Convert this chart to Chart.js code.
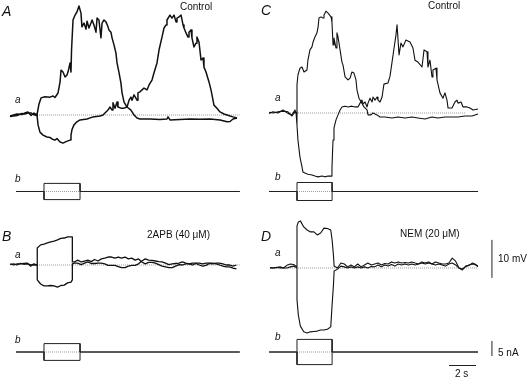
<!DOCTYPE html>
<html>
<head>
<meta charset="utf-8">
<script src="https://cdn.jsdelivr.net/npm/chart.js@4.4.1/dist/chart.umd.min.js"></script>
<style>
  body { margin: 0; background: #fff; }
  #wrap { position: relative; width: 530px; height: 383px; overflow: hidden; background: #fff; }
  #wrap canvas { position: absolute; }
  .lbl { position: absolute; font-family: "Liberation Sans", Arial, sans-serif; color: #111; white-space: nowrap; font-size: 10px; line-height: 10px; }
  .it { font-style: italic; }
  .big { font-size: 14px; line-height: 14px; }
</style>
</head>
<body>
<div id="wrap">
  <canvas id="panelA" width="265" height="210" style="left:0;top:0"></canvas>
  <canvas id="panelC" width="265" height="210" style="left:265px;top:0"></canvas>
  <canvas id="panelB" width="265" height="173" style="left:0;top:210px"></canvas>
  <canvas id="panelD" width="265" height="173" style="left:265px;top:210px"></canvas>

  <div class="lbl it big" style="left:2px;top:4px">A</div>
  <div class="lbl" style="left:180px;top:2px">Control</div>
  <div class="lbl it" style="left:15px;top:95px">a</div>
  <div class="lbl it" style="left:15px;top:174px">b</div>

  <div class="lbl it big" style="left:261px;top:3px">C</div>
  <div class="lbl" style="left:428px;top:1px">Control</div>
  <div class="lbl it" style="left:275px;top:93px">a</div>
  <div class="lbl it" style="left:275px;top:172px">b</div>

  <div class="lbl it big" style="left:2px;top:229px">B</div>
  <div class="lbl" style="left:147px;top:230px">2APB (40 μM)</div>
  <div class="lbl it" style="left:15px;top:250px">a</div>
  <div class="lbl it" style="left:15px;top:335px">b</div>

  <div class="lbl it big" style="left:261px;top:229px">D</div>
  <div class="lbl" style="left:400px;top:229px">NEM (20 μM)</div>
  <div class="lbl it" style="left:275px;top:248px">a</div>
  <div class="lbl it" style="left:275px;top:332px">b</div>

  <div class="lbl" style="left:498px;top:254px">10 mV</div>
  <div class="lbl" style="left:498px;top:348px">5 nA</div>
  <div class="lbl" style="left:455px;top:369px">2 s</div>
</div>

<script>
// time in s from current step onset, membrane potential in mV, current in nA

// A - control, first cell
var timeUpA = [-2.52,-2.0,-1.63,-1.41,-1.19,-0.96,-0.74,-0.59,-0.52,-0.37,-0.22,0.07,0.44,0.67,0.81,1.04,1.19,1.26,1.41,
  1.56,1.70,1.78,1.93,2.0,2.04,2.15,2.30,2.44,2.59,2.74,2.81,2.96,3.11,3.19,3.33,3.48,3.56,3.70,3.85,
  3.93,4.07,4.22,4.30,4.44,4.59,4.74,4.81,4.96,5.04,5.19,5.33,5.41,5.56,5.70,5.78,5.93,6.15,6.44,6.67,
  6.89,7.11,7.85,8.59,9.11,9.19,9.33,10.07,10.81,11.56,12.3,13.04,13.56,13.78,14.0,14.3];
var voltUpA = [-0.26,0.26,0.13,0.53,0.79,-0.13,0.53,-0.13,0,2.9,4.5,4.8,4.7,5.0,4.6,5.8,8.7,11.8,11.3,
  10.0,10.5,11.3,13.7,11.3,17.1,25.0,26.3,27.1,28.7,26.8,23.2,24.2,22.6,24.7,22.9,24.2,25.0,23.7,21.8,
  25.5,25.0,20.3,24.2,25.0,24.5,23.2,22.4,21.8,20.3,18.4,16.3,13.7,11.1,8.4,5.8,3.4,2.1,1.3,0,
  -0.8,-1.05,-1.05,-1.2,-1.05,-0.5,-1.3,-1.2,-1.05,-1.1,-1.05,-1.3,-1.8,-1.7,-1.05,-0.8];
var timeDownA = [-2.52,-2.0,-1.63,-1.41,-1.19,-0.96,-0.74,-0.59,-0.52,
  -0.44,-0.30,-0.07,0.22,0.44,0.59,0.81,0.96,1.19,1.41,1.63,1.93,2.0,2.07,2.22,2.44,2.67,3.19,3.63,4.15,
  4.37,4.59,4.74,4.89,5.04,5.11,5.26,5.41,5.48,5.70,5.93,6.15,6.30,6.44,6.52,6.67,6.89,6.96,7.11,7.26,
  7.41,7.63,7.78,8.0,8.15,8.37,8.52,8.74,8.89,9.04,9.11,9.33,9.48,9.63,9.78,9.85,10.0,10.15,10.30,10.37,
  10.52,10.67,10.74,10.89,10.96,11.11,11.26,11.33,11.48,11.63,11.78,11.85,12.0,12.22,12.37,12.59,12.81,
  13.04,13.33,13.56,13.78,14.0,14.3];
var voltDownA = [-0.4,-0.13,0.4,0.26,0.53,0.53,0,0.26,0,
  -2.6,-4.5,-5.3,-5.8,-5.9,-6.3,-6.6,-6.2,-7.1,-7.4,-7.0,-6.6,-5.3,-3.9,-2.6,-1.8,-1.3,-1.05,-0.5,-0.26,
  0,0.8,1.3,2.1,1.3,3.2,1.8,3.4,2.1,1.8,1.8,2.1,3.9,4.7,3.9,5.3,3.9,5.8,6.1,6.6,
  7.1,6.6,7.9,9.2,11.1,13.7,17.1,20.5,22.9,23.7,25.0,26.3,25.5,26.3,24.5,25.5,25.8,26.3,23.7,22.9,
  21.6,20.5,21.8,22.4,20.3,17.9,18.9,20.5,19.2,14.5,15.0,12.6,11.3,8.7,6.6,2.6,1.8,
  0.8,0.26,0,-0.26,-0.5,-0.8];

// C - control, second cell
var timeUpC = [-2.07,-1.78,-1.41,-1.04,-0.67,-0.37,-0.15,-0.07,
  0,0.07,0.22,0.37,0.52,0.74,0.81,0.96,1.11,1.19,1.33,1.48,1.56,1.63,1.78,1.93,2.0,2.15,2.30,2.37,
  2.52,2.59,2.67,2.74,2.89,2.96,3.04,3.19,3.33,3.41,3.56,3.78,3.93,4.07,4.22,4.37,4.44,4.59,4.81,4.96,
  5.19,5.26,5.48,5.63,5.93,6.15,6.52,7.04,7.48,8.0,8.52,8.96,9.48,10.0,10.44,10.96,11.48,11.93,12.44,12.96,13.41];
var voltUpC = [-0.1,0.3,0,0.8,-0.1,-0.5,0.8,0,
  7.4,10.0,11.8,12.1,10.8,11.3,13.9,16.6,17.4,18.7,20.0,21.1,22.6,25.0,25.3,25.0,25.8,26.8,26.3,26.3,
  25.3,23.9,17.9,19.7,17.1,21.1,20.0,16.6,13.4,12.6,9.5,8.7,9.2,10.8,10.5,8.7,6.1,3.9,2.6,1.6,
  0.8,-0.5,-0.5,0,-0.5,-1.05,-1.05,-1.3,-1.05,-1.3,-1.05,-1.3,-1.6,-1.05,-1.3,-1.05,-1.05,-1.05,-0.8,-0.8,-0.26];
var timeDownC = [-2.07,-1.78,-1.41,-1.04,-0.67,-0.37,-0.15,-0.07,
  0,0.07,0.22,0.37,0.44,0.59,0.81,1.11,1.33,1.56,1.85,2.07,2.30,2.52,2.59,2.63,2.67,2.74,2.89,3.04,
  3.19,3.33,3.56,3.78,4.07,4.30,4.52,4.67,4.81,4.89,5.04,5.19,5.26,5.41,5.56,5.63,5.78,5.93,6.0,6.15,
  6.30,6.44,6.74,6.89,7.04,7.19,7.33,7.41,7.56,7.70,7.85,8.07,8.37,8.59,8.74,8.96,9.26,9.41,9.63,9.70,
  9.85,10.0,10.07,10.30,10.37,10.59,10.81,10.96,11.11,11.19,11.48,11.70,11.85,11.93,12.15,12.30,12.59,12.81,13.04,13.41];
var voltDownC = [0.2,0,0.3,0.5,0.3,-0.8,0.3,0,
  -3.2,-7.1,-11.6,-14.2,-15.5,-15.8,-16.1,-16.3,-16.6,-16.8,-16.6,-16.8,-16.6,-16.6,-14.5,-10.5,-7.1,-3.9,-1.8,-0.5,
  0.8,1.6,1.8,1.6,1.8,1.6,1.6,2.6,3.4,2.4,2.9,1.6,2.6,3.9,2.9,4.2,3.4,4.2,3.4,2.9,
  4.2,7.6,7.9,9.7,13.4,17.1,20.5,23.2,15.3,18.4,17.4,19.2,18.7,17.1,13.9,13.4,12.1,16.6,16.1,12.1,
  13.9,9.5,11.3,11.8,8.7,5.3,3.9,5.3,3.4,1.3,1.3,2.9,3.4,2.6,2.9,1.6,1.6,1.3,0.8,1.05];

// B - 2APB
var timeB = [-2.5,-2.25,-2.0,-1.75,-1.5,-1.25,-1.0,-0.75,-0.5,-0.5,-0.25,0,0.25,0.5,0.75,1.0,1.25,1.5,1.75,2.0,
  2.1,2.1,2.25,2.5,2.75,3.0,3.25,3.5,3.75,4.0,4.25,4.5,4.75,5.0,5.25,5.5,5.75,6.0,6.25,6.5,6.75,7.0,
  7.25,7.5,7.75,8.0,8.25,8.5,8.75,9.0,9.25,9.5,9.75,10.0,10.25,10.5,10.75,11.0,11.25,11.5,11.75,12.0,
  12.25,12.5,12.75,13.0,13.25,13.5,13.75,14.0,14.25];
var voltUpB = [0.3,0,0.3,0.3,0.4,0.5,-0.3,0.3,0,4.5,5.3,5.5,5.8,6.1,6.3,6.6,7.0,7.1,7.4,7.4,
  7.4,0.8,0.8,1.3,0.8,1.05,1.3,0.9,1.45,1.05,1.6,1.8,2.1,2.1,1.8,2.1,1.8,2.1,1.6,1.8,1.3,1.6,
  0.8,0.3,0.7,0.7,0.5,0.1,-0.3,-0.5,-0.7,-0.7,-0.3,0.1,0,0.3,0.3,0.5,0.5,0.5,0.3,0.5,
  0.5,0.5,0.3,0,-0.3,-0.5,-0.5,-0.8,-1.05];
var voltDownB = [0.1,0.3,0,0.4,0.2,0.3,0.1,0,0,-3.9,-5.0,-5.5,-5.5,-5.4,-5.5,-5.8,-5.4,-5.3,-4.7,-4.5,
  -3.9,0.3,0.5,0.5,0.1,0.5,0.8,0.4,0.4,0.5,0.5,0.3,-0.1,-0.1,-0.1,-0.4,-0.7,-0.7,-0.3,-0.1,-0.1,0.3,
  1.05,1.6,1.3,1.2,1.05,0.9,0.8,0.5,0.1,0.3,0.4,0.5,0.8,0.5,0.3,0,0.4,0,-0.3,-0.1,
  0.4,0.3,0.5,0.5,0.3,0,0,-0.3,0];

// D - NEM
var timeD = [-2.0,-1.75,-1.5,-1.25,-1.0,-0.75,-0.5,-0.25,0,0,0.1,0.25,0.5,0.75,1.0,1.25,1.5,1.75,2.0,2.25,2.5,
  2.6,2.7,2.75,3.0,3.25,3.5,3.75,4.0,4.25,4.5,4.75,5.0,5.25,5.5,5.75,6.0,6.25,6.5,6.75,7.0,7.25,7.5,
  7.75,8.0,8.25,8.5,8.75,9.0,9.25,9.5,9.75,10.0,10.25,10.5,10.75,11.0,11.25,11.5,11.75,12.0,12.25,12.5,
  12.75,13.0,13.25,13.4];
var voltUpD = [0,0,0.1,0.3,0,0.7,1.05,0.9,0.3,11.1,12.1,12.4,10.8,10.0,9.5,9.5,8.7,9.2,10.5,10.4,10.0,
  7.4,3.4,0.5,0,1.3,1.05,0.3,0.8,0.3,1.05,0.3,0.8,1.3,0.8,1.05,1.3,0.8,1.2,1.05,1.6,1.3,1.6,
  1.3,1.45,1.3,1.6,1.3,1.05,1.6,1.3,1.6,1.05,1.6,1.3,1.05,1.05,1.3,2.6,1.8,0,-0.5,0.5,
  0.7,1.3,0.9,0.3];
var voltDownD = [0.1,0,0.2,0,0,0,0.3,0.5,0,-8.4,-12.4,-15.3,-16.8,-17.1,-16.8,-16.7,-16.6,-16.3,-16.3,-16.1,-15.5,
  -9.7,-4.5,-0.8,-0.3,0.5,0.3,0,0.3,0,0.3,0,0.3,0,0.4,0.3,0.8,0.3,0.8,0.5,0.9,0.5,1.05,
  0.8,1.05,0.8,1.05,0.8,1.05,1.3,1.05,1.3,1.05,0.8,1.05,0.8,0.5,1.05,1.3,0.8,0,-0.3,0.4,
  0.8,1.05,0.8,0.5];

// current steps (b traces)
var stepTimeLeft = [-2.07,0,0,2.67,2.67,14.5];
var stepTimeRight = [-2.07,0,0,2.6,2.6,13.41];
var stepA = 2.7, stepB = 2.8, stepC = 3.0, stepD = 4.2;

// zero lines (dotted) [start, end]
var zeroA = [-0.67,14.5], zeroB = [-0.67,14.5], zeroC = [-0.52,12.44], zeroD = [-1.85,13.41];

// scale bars in D
var barMV = [-2.6,7.4], barNA = [-1.33,3.67], barS = [11.26,13.26];
var barT = 14.44, barSLevel = -4.5;

function pts(ts, vs) {
  return ts.map(function (t, i) { return {x: t, y: vs[i]}; });
}
function stepPts(ts, amp) {
  return pts(ts, [0, 0, amp, amp, 0, 0]);
}

function trace(data, w) {
  return {data: data, yAxisID: 'yV', borderColor: '#111', borderWidth: w,
    pointRadius: 0, tension: 0, fill: false, borderJoinStyle: 'round', order: 1};
}
function dotted(data, axis) {
  return {data: data, yAxisID: axis, borderColor: '#9a9a9a', borderWidth: 1, borderDash: [1, 1],
    pointRadius: 0, tension: 0, fill: false, order: 5};
}
function cur(data) {
  return {data: data, yAxisID: 'yI', borderColor: '#222', borderWidth: 1,
    pointRadius: 0, tension: 0, fill: false, order: 2};
}

function panel(id, xr, yV, yI, sets) {
  return new Chart(document.getElementById(id), {
    type: 'line',
    data: {datasets: sets},
    options: {
      responsive: false,
      animation: false,
      events: [],
      layout: {padding: 0},
      plugins: {legend: {display: false}, tooltip: {enabled: false}, title: {display: false}},
      scales: {
        x: {type: 'linear', display: false, min: xr[0], max: xr[1]},
        yV: {type: 'linear', display: false, min: yV[0], max: yV[1]},
        yI: {type: 'linear', display: false, min: yI[0], max: yI[1]}
      }
    }
  });
}

var leftX = [-3.259, 16.370];
var rightX = [-2.370, 17.259];

function panelSets(tUp, vUp, tDn, vDn, w, zero, stepT, amp) {
  return [
    dotted(pts(zero, [0, 0]), 'yV'),
    dotted(pts([stepT[1], stepT[3]], [0, 0]), 'yI'),
    trace(pts(tUp, vUp), w),
    trace(pts(tDn, vDn), w),
    cur(stepPts(stepT, amp)),
    cur(stepPts(stepT, -amp))
  ];
}

panel('panelA', leftX, [-25.0, 30.263], [-6.167, 63.833],
  panelSets(timeUpA, voltUpA, timeDownA, voltDownA, 1.5, zeroA, stepTimeLeft, stepA));

panel('panelC', rightX, [-25.526, 29.737], [-6.167, 63.833],
  panelSets(timeUpC, voltUpC, timeDownC, voltDownC, 1.1, zeroC, stepTimeRight, stepC));

panel('panelB', leftX, [-31.053, 14.474], [-10.333, 47.333],
  panelSets(timeB, voltUpB, timeB, voltDownB, 1.3, zeroB, stepTimeLeft, stepB));

var setsD = panelSets(timeD, voltUpD, timeD, voltDownD, 1.1, zeroD, stepTimeRight, stepD);
setsD.push(cur(pts([barT, barT], barMV)));
setsD[setsD.length - 1].yAxisID = 'yV';
setsD.push(cur(pts([barT, barT], barNA)));
setsD.push(cur(pts(barS, [barSLevel, barSLevel])));
panel('panelD', rightX, [-30.263, 15.263], [-10.333, 47.333], setsD);
</script>
</body>
</html>
